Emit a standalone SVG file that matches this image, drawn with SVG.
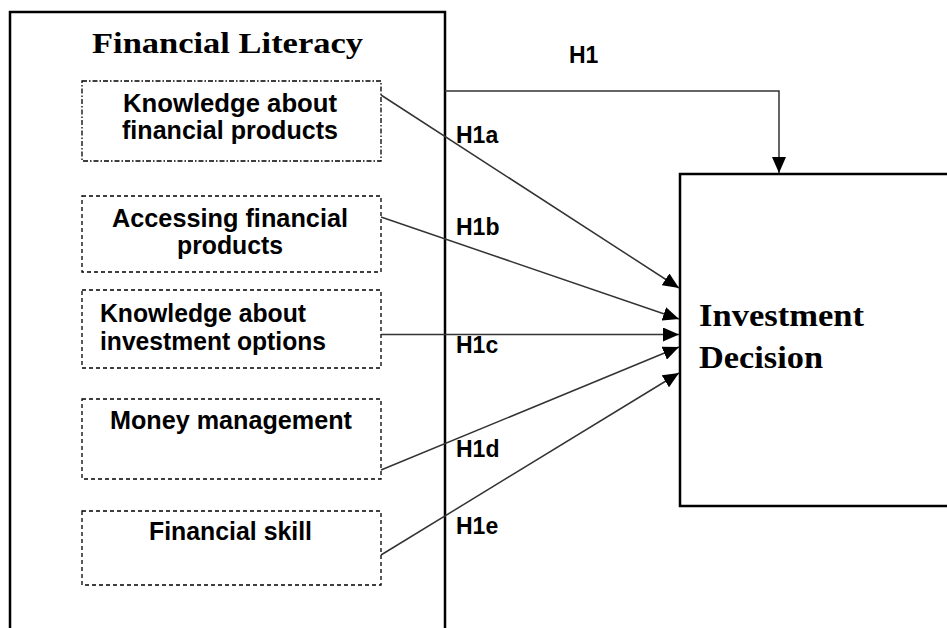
<svg xmlns="http://www.w3.org/2000/svg" width="947" height="628" viewBox="0 0 947 628">
<style>
.bg{fill:#fff}
.frame{fill:none;stroke:#000;stroke-width:2.5}
.dim{fill:#fff;stroke:#000;stroke-width:1.3;stroke-dasharray:4 3}
.dd{stroke-dasharray:5 2 1.5 2}
.t{font-family:"Liberation Sans",Arial,sans-serif;font-weight:bold;font-size:25px;fill:#000}
.h{font-family:"Liberation Serif","Times New Roman",serif;font-weight:bold;fill:#000}
.lbl{font-family:"Liberation Sans",Arial,sans-serif;font-weight:bold;font-size:23px;fill:#000}
.c{fill:none;stroke:#333;stroke-width:1.5}
</style>
<defs>
<marker id="ah" viewBox="0 0 16 14" refX="16" refY="7" markerWidth="16" markerHeight="14" orient="auto" markerUnits="userSpaceOnUse">
<path d="M0,0 L16,7 L0,14 z" fill="#000"/>
</marker>
</defs>
<rect class="bg" x="0" y="0" width="947" height="628"/>
<g id="financial-literacy">
<rect class="frame" x="10" y="12" width="435" height="630"/>
<text class="h" x="92" y="53" font-size="30" textLength="271" lengthAdjust="spacingAndGlyphs">Financial Literacy</text>
</g>
<g id="knowledge-products">
<rect class="dim dd" x="82" y="81" width="299" height="80"/>
<text class="t" x="123" y="112" textLength="214" lengthAdjust="spacingAndGlyphs">Knowledge about</text>
<text class="t" x="122" y="139" textLength="216" lengthAdjust="spacingAndGlyphs">financial products</text>
</g>
<g id="accessing-products">
<rect class="dim" x="82" y="196" width="299" height="76"/>
<text class="t" x="112" y="227" textLength="236" lengthAdjust="spacingAndGlyphs">Accessing financial</text>
<text class="t" x="177" y="254" textLength="106" lengthAdjust="spacingAndGlyphs">products</text>
</g>
<g id="knowledge-investment">
<rect class="dim" x="82" y="290" width="299" height="78"/>
<text class="t" x="100" y="322" textLength="206" lengthAdjust="spacingAndGlyphs">Knowledge about</text>
<text class="t" x="100" y="350" textLength="226" lengthAdjust="spacingAndGlyphs">investment options</text>
</g>
<g id="money-management">
<rect class="dim" x="82" y="399" width="299" height="80"/>
<text class="t" x="110" y="429" textLength="242" lengthAdjust="spacingAndGlyphs">Money management</text>
</g>
<g id="financial-skill">
<rect class="dim" x="82" y="511" width="299" height="74"/>
<text class="t" x="149" y="540" textLength="163" lengthAdjust="spacingAndGlyphs">Financial skill</text>
</g>
<g id="investment-decision">
<rect class="frame" x="680" y="174" width="300" height="332" stroke-width="3"/>
<text class="h" x="699" y="326" font-size="31" textLength="165" lengthAdjust="spacingAndGlyphs">Investment</text>
<text class="h" x="699" y="368" font-size="31" textLength="124" lengthAdjust="spacingAndGlyphs">Decision</text>
</g>
<g id="connectors">
<path class="c" d="M445,91 H779 V173" stroke="#000" stroke-width="2" marker-end="url(#ah)"/>
<line class="c" x1="381" y1="95" x2="679" y2="288" marker-end="url(#ah)"/>
<line class="c" x1="381" y1="217" x2="679" y2="319" marker-end="url(#ah)"/>
<line class="c" x1="381" y1="334.5" x2="679" y2="334.5" marker-end="url(#ah)"/>
<line class="c" x1="381" y1="470" x2="679" y2="347" marker-end="url(#ah)"/>
<line class="c" x1="381" y1="555" x2="679" y2="373" marker-end="url(#ah)"/>
<text class="lbl" x="569" y="63">H1</text>
<text class="lbl" x="456" y="143">H1a</text>
<text class="lbl" x="456" y="235">H1b</text>
<text class="lbl" x="456" y="353">H1c</text>
<text class="lbl" x="456" y="457">H1d</text>
<text class="lbl" x="456" y="534">H1e</text>
</g>
</svg>
